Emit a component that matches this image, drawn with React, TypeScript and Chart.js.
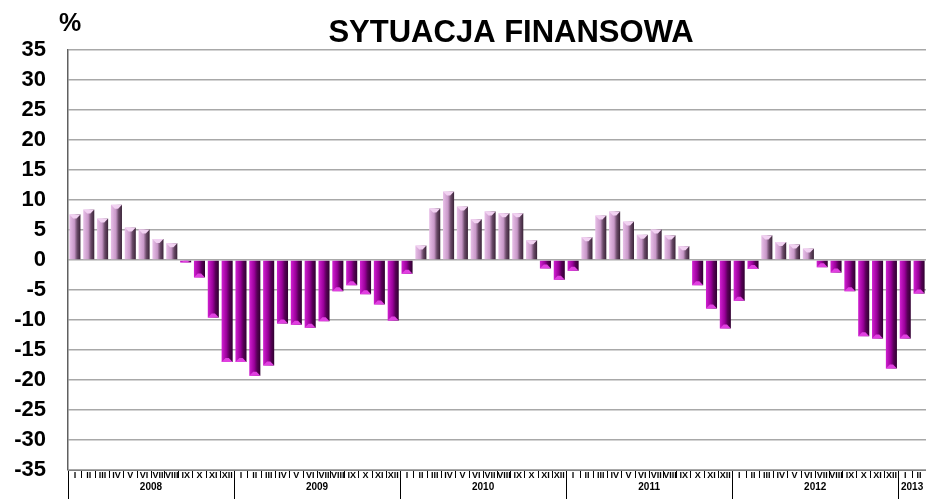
import React, { useEffect, useRef } from "react";
import { Chart, registerables } from "chart.js";

Chart.register(...registerables);

const months = ["I", "II", "III", "IV", "V", "VI", "VII", "VIII", "IX", "X", "XI", "XII"];
const years = ["2008", "2009", "2010", "2011", "2012", "2013"];
const monthsPerYear = [12, 12, 12, 12, 12, 2];

const values = [
  7.6, 8.4, 6.9, 9.2, 5.4, 5.1, 3.5, 2.8, -0.4, -2.9, -9.6, -17.0,
  -17.0, -19.3, -17.6, -10.6, -10.8, -11.3, -10.2, -5.2, -4.2, -5.7, -7.4, -10.1,
  -2.3, 2.4, 8.6, 11.4, 8.9, 6.8, 8.1, 7.8, 7.8, 3.3, -1.4, -3.3,
  -1.8, 3.8, 7.4, 8.1, 6.4, 4.2, 5.1, 4.1, 2.3, -4.2, -8.1, -11.4,
  -6.8, -1.5, 4.1, 3.0, 2.6, 1.9, -1.2, -2.1, -5.2, -12.7, -13.1, -18.1,
  -13.1, -5.6,
];

const yTicks = [35, 30, 25, 20, 15, 10, 5, 0, -5, -10, -15, -20, -25, -30, -35];

const titleText = "SYTUACJA FINANSOWA";
const unitText = "%";

const monthLabels: string[] = [];
const yearLabels: string[] = [];
const yearStart: number[] = [];
years.forEach((y, yi) => {
  const n = monthsPerYear[yi];
  const mid = Math.ceil(n / 2);
  yearStart.push(monthLabels.length);
  for (let m = 0; m < n; m++) {
    monthLabels.push(months[m]);
    yearLabels.push(m === mid ? y : "");
  }
});

const BAR_PCT = 0.8;

export default function App() {
  const ref = useRef<HTMLCanvasElement>(null);
  useEffect(() => {
    const canvas = ref.current!;
    const overlay = {
      id: "overlay",
      afterDatasetsDraw(chart: any) {
        const ctx = chart.ctx;
        const meta = chart.getDatasetMeta(0);
        ctx.save();
        meta.data.forEach((bar: any, i: number) => {
          const v = values[i];
          const w = bar.width;
          const x0 = bar.x - w / 2;
          const x1 = bar.x + w / 2;
          const y = bar.y;
          const h = Math.min(4, Math.abs(bar.base - y));
          ctx.beginPath();
          if (v >= 0) {
            ctx.moveTo(x0, y);
            ctx.lineTo(x1, y);
            ctx.lineTo(bar.x + w * 0.15, y + h);
            ctx.lineTo(bar.x - w * 0.15, y + h);
            ctx.fillStyle = "#f2d2f2";
          } else {
            ctx.moveTo(x0, y);
            ctx.lineTo(x1, y);
            ctx.lineTo(bar.x + w * 0.15, y - h);
            ctx.lineTo(bar.x - w * 0.15, y - h);
            ctx.fillStyle = "#e040e0";
          }
          ctx.closePath();
          ctx.fill();
        });
        ctx.restore();
      },
      afterDraw(chart: any) {
        const ctx = chart.ctx;
        ctx.save();
        ctx.fillStyle = "#000";
        ctx.textBaseline = "alphabetic";
        ctx.textAlign = "center";
        ctx.font = "bold 31px 'Liberation Sans', Arial, sans-serif";
        ctx.fillText(titleText, 511, 42);
        ctx.font = "bold 25px 'Liberation Sans', Arial, sans-serif";
        ctx.fillText(unitText, 70, 31);
        ctx.restore();
      },
    };

    const chart = new Chart(canvas, {
      type: "bar",
      data: {
        labels: monthLabels,
        datasets: [
          {
            data: values,
            categoryPercentage: 1,
            barPercentage: BAR_PCT,
            backgroundColor: (c: any) => {
              const ch = c.chart;
              const xs = ch.scales?.x;
              const v = values[c.dataIndex] ?? 0;
              if (!xs || !ch.chartArea) return v >= 0 ? "#c898c8" : "#900090";
              const cx = xs.getPixelForValue(c.dataIndex);
              const w = (xs.width / values.length) * BAR_PCT;
              const g = ch.ctx.createLinearGradient(cx - w / 2, 0, cx + w / 2, 0);
              if (v >= 0) {
                g.addColorStop(0, "#e8c0e8");
                g.addColorStop(0.45, "#c898c8");
                g.addColorStop(0.7, "#6a4a68");
                g.addColorStop(1, "#3a2438");
              } else {
                g.addColorStop(0, "#d020d0");
                g.addColorStop(0.45, "#9a009a");
                g.addColorStop(0.7, "#580058");
                g.addColorStop(1, "#300030");
              }
              return g;
            },
            borderWidth: 0,
          },
        ],
      },
      options: {
        animation: false,
        responsive: false,
        devicePixelRatio: 1,
        layout: { padding: { top: 50, right: 0, bottom: 0, left: 0 } },
        plugins: { legend: { display: false }, tooltip: { enabled: false }, title: { display: false } },
        scales: {
          y: {
            min: -35,
            max: 35,
            afterFit: (s: any) => {
              s.width = 68;
              s.paddingTop = 0;
              s.paddingBottom = 0;
            },
            afterBuildTicks: (s: any) => {
              s.ticks = yTicks.map((v) => ({ value: v }));
            },
            ticks: {
              stepSize: 5,
              padding: 22,
              color: "#000",
              font: { family: "'Liberation Sans', Arial, sans-serif", size: 22, weight: "bold" },
            },
            grid: { color: "#a8a8a8", lineWidth: 1.5, drawTicks: false },
            border: { display: true, color: "#606060", width: 1.5 },
          },
          x: {
            position: "bottom",
            offset: true,
            afterFit: (s: any) => {
              s.height = 8;
            },
            ticks: {
              autoSkip: false,
              maxRotation: 0,
              minRotation: 0,
              padding: -8,
              color: "#000",
              font: { family: "'Liberation Sans', Arial, sans-serif", size: 9, weight: "bold" },
            },
            grid: {
              offset: true,
              drawOnChartArea: false,
              drawTicks: true,
              tickLength: 8,
              color: "#000",
              lineWidth: 1,
            },
            border: { display: true, color: "#808080", width: 1 },
          },
          x2: {
            type: "category",
            position: "bottom",
            labels: yearLabels,
            offset: true,
            afterFit: (s: any) => {
              s.height = 21;
            },
            ticks: {
              autoSkip: false,
              maxRotation: 0,
              minRotation: 0,
              padding: -18,
              labelOffset: -7,
              color: "#000",
              font: { family: "'Liberation Sans', Arial, sans-serif", size: 10, weight: "bold" },
            },
            grid: {
              offset: true,
              drawOnChartArea: false,
              drawTicks: true,
              tickLength: 21,
              color: (c: any) => (yearStart.includes(c.index) ? "#000" : "rgba(0,0,0,0)"),
              lineWidth: 1,
            },
            border: { display: false },
          },
        },
      },
      plugins: [overlay],
    } as any);
    return () => chart.destroy();
  }, []);
  return (
    <div style={{ position: "absolute", left: 0, top: 0, width: 926, height: 499, background: "#fff" }}>
      <canvas ref={ref} width={926} height={499} style={{ display: "block" }} />
    </div>
  );
}
